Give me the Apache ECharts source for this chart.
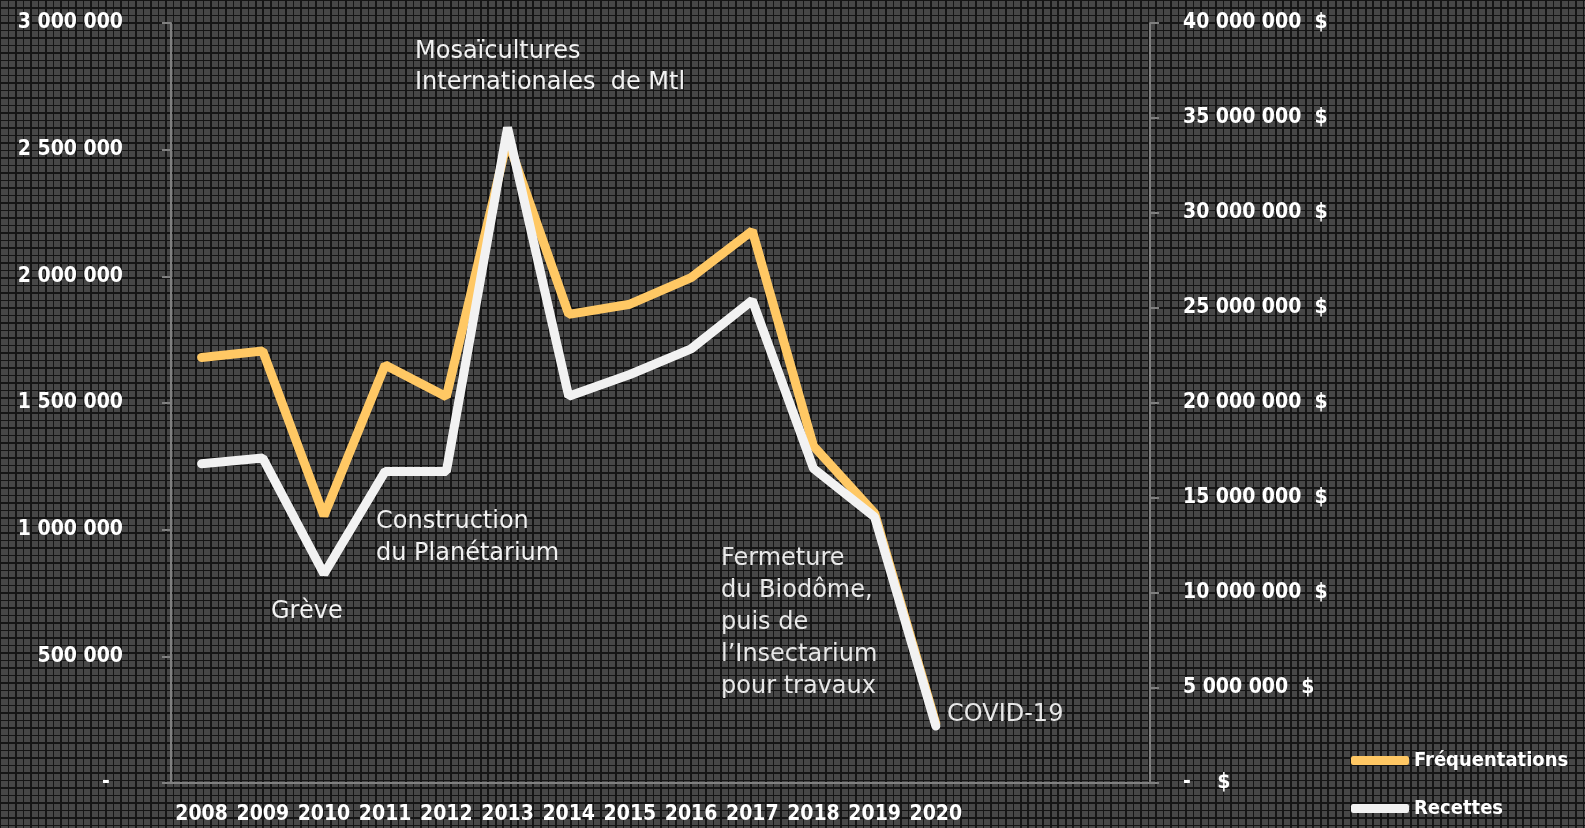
<!DOCTYPE html>
<html>
<head>
<meta charset="utf-8">
<script src="https://cdn.jsdelivr.net/npm/echarts@6/dist/echarts.min.js"></script>
<style>
  html, body { margin: 0; padding: 0; }
  body {
    width: 1585px; height: 828px; overflow: hidden;
    background-color: #474747;
    background-image:
      repeating-linear-gradient(to bottom, #151515 0 1.5px, transparent 1.5px 7.5px),
      repeating-linear-gradient(to right, #151515 0 1.5px, transparent 1.5px 7.5px);
  }
  #chart { width: 1585px; height: 828px; }
</style>
</head>
<body>
<div id="chart"></div>
<script>
var years = ['2008', '2009', '2010', '2011', '2012', '2013', '2014', '2015', '2016', '2017', '2018', '2019', '2020', '', '', ''];
var frequentations = [1680000, 1705000, 1055000, 1650000, 1525000, 2540000, 1850000, 1890000, 1995000, 2180000, 1330000, 1065000, 235000];
var recettes = [16800000, 17100000, 11000000, 16400000, 16400000, 34500000, 20350000, 21500000, 22850000, 25400000, 16550000, 14000000, 3000000];

var axisColor = '#808080';
var narrow = '"DejaVu Sans Condensed", "DejaVu Sans", sans-serif';
var wide = '"DejaVu Sans", sans-serif';

function spaced(v) {
  return String(v).replace(/\B(?=(\d{3})+(?!\d))/g, ' ');
}

var chart = echarts.init(document.getElementById('chart'), null, { renderer: 'canvas' });
chart.setOption({
  animation: false,
  backgroundColor: 'transparent',
  grid: { left: 171, right: 435, top: 23, bottom: 45 },
  legend: {
    orient: 'vertical',
    left: 1346,
    top: 742,
    icon: 'roundRect',
    itemWidth: 58,
    itemHeight: 9,
    itemGap: 21,
    textStyle: { color: '#ffffff', fontSize: 20, fontWeight: 'bold', fontFamily: narrow, lineHeight: 27 },
    data: ['Fréquentations', 'Recettes']
  },
  xAxis: {
    type: 'category',
    data: years,
    boundaryGap: true,
    axisLine: { lineStyle: { color: axisColor, width: 2 } },
    axisTick: { interval: 0, length: 9, lineStyle: { color: axisColor, width: 2 } },
    axisLabel: { interval: 0, color: '#ffffff', fontSize: 21, fontWeight: 'bold', fontFamily: narrow, margin: 21 },
    splitLine: { show: false }
  },
  yAxis: [{
    type: 'value',
    min: 0,
    max: 3000000,
    interval: 500000,
    axisLine: { show: true, lineStyle: { color: axisColor, width: 2 } },
    axisTick: { show: true, length: 9, lineStyle: { color: axisColor, width: 2 } },
    axisLabel: {
      color: '#ffffff', fontSize: 21, fontWeight: 'bold', fontFamily: narrow, margin: 48,
      formatter: function(v) { return v === 0 ? '-  ' : spaced(v); }
    },
    splitLine: { show: false }
  }, {
    type: 'value',
    min: 0,
    max: 40000000,
    interval: 5000000,
    position: 'right',
    axisLine: { show: true, lineStyle: { color: axisColor, width: 2 } },
    axisTick: { show: true, length: 9, lineStyle: { color: axisColor, width: 2 } },
    axisLabel: {
      color: '#ffffff', fontSize: 21, fontWeight: 'bold', fontFamily: narrow, margin: 33,
      formatter: function(v) { return v === 0 ? '-    $' : spaced(v) + '  $'; }
    },
    splitLine: { show: false }
  }],
  series: [{
    name: 'Fréquentations',
    type: 'line',
    yAxisIndex: 0,
    data: frequentations,
    showSymbol: false,
    symbol: 'none',
    color: '#ffc864',
    lineStyle: { color: '#ffc864', width: 9, cap: 'round' },
    emphasis: { disabled: true }
  }, {
    name: 'Recettes',
    type: 'line',
    yAxisIndex: 1,
    data: recettes,
    showSymbol: false,
    symbol: 'none',
    color: '#f2f2f2',
    lineStyle: { color: '#f2f2f2', width: 9, cap: 'round' },
    emphasis: { disabled: true }
  }],
  graphic: [
    { type: 'text', left: 415, top: 36, style: { text: 'Mosaïcultures\nInternationales  de Mtl', fill: '#f2f2f2', fontSize: 24, fontFamily: wide, lineHeight: 31 } },
    { type: 'text', left: 376, top: 506, style: { text: 'Construction\ndu Planétarium', fill: '#f2f2f2', fontSize: 24, fontFamily: wide, lineHeight: 32 } },
    { type: 'text', left: 271, top: 596, style: { text: 'Grève', fill: '#f2f2f2', fontSize: 24, fontFamily: wide, lineHeight: 31 } },
    { type: 'text', left: 721, top: 543, style: { text: 'Fermeture\ndu Biodôme,\npuis de\nl\u2019Insectarium\npour travaux', fill: '#e8e8e8', fontSize: 24, fontFamily: wide, lineHeight: 32 } },
    { type: 'text', left: 947, top: 699, style: { text: 'COVID-19', fill: '#e8e8e8', fontSize: 24, fontFamily: wide, lineHeight: 31 } }
  ]
});
</script>
</body>
</html>
